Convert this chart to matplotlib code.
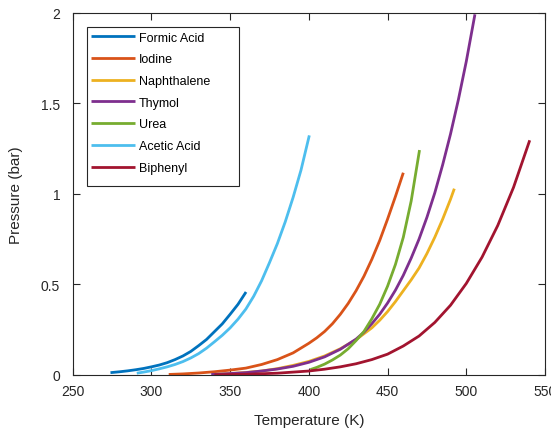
import matplotlib
matplotlib.use("Agg")
import matplotlib.pyplot as plt
from matplotlib.patches import Rectangle

plt.rcParams['font.family'] = ['Liberation Sans', 'DejaVu Sans']

labels = ["Formic Acid", "Iodine", "Naphthalene", "Thymol", "Urea", "Acetic Acid", "Biphenyl"]
colors = ["#0072BD", "#D95319", "#EDB120", "#7E2F8E", "#77AC30", "#4DBEEE", "#A2142F"]

formic_T = [274, 280, 285, 290, 295, 300, 305, 310, 315, 320, 325, 330, 335, 340, 345, 350, 355, 360.1]
formic_P = [0.013, 0.018, 0.023, 0.029, 0.036, 0.045, 0.055, 0.068, 0.085, 0.105, 0.13, 0.162,
            0.196, 0.239, 0.282, 0.335, 0.39, 0.458]

iodine_T = [311, 320, 330, 340, 350, 360, 370, 380, 390, 400, 405, 410, 415, 420, 425, 430,
            435, 440, 445, 450, 455, 460]
iodine_P = [0.003, 0.006, 0.011, 0.018, 0.027, 0.038, 0.058, 0.085, 0.122, 0.175, 0.205, 0.24,
            0.283, 0.335, 0.395, 0.465, 0.545, 0.638, 0.742, 0.86, 0.985, 1.116]

naph_T = [340, 350, 360, 370, 380, 390, 400, 410, 420, 430, 440, 445, 450, 455, 460, 465,
          470, 475, 480, 485, 490, 492.4]
naph_P = [0.004, 0.008, 0.014, 0.022, 0.035, 0.053, 0.075, 0.105, 0.145, 0.195, 0.26, 0.302,
          0.35, 0.405, 0.465, 0.525, 0.59, 0.67, 0.76, 0.86, 0.97, 1.028]

thymol_T = [338, 350, 360, 370, 380, 390, 400, 410, 420, 430, 435, 440, 445, 450, 455, 460,
            465, 470, 475, 480, 485, 490, 495, 500, 505.5]
thymol_P = [0.003, 0.008, 0.013, 0.022, 0.033, 0.048, 0.07, 0.10, 0.142, 0.198, 0.236, 0.283,
            0.335, 0.397, 0.468, 0.55, 0.645, 0.75, 0.87, 1.005, 1.16, 1.33, 1.52, 1.73, 1.99]

urea_T = [401, 405, 410, 415, 420, 425, 430, 435, 440, 445, 450, 455, 460, 465, 470.3]
urea_P = [0.03, 0.042, 0.06, 0.083, 0.11, 0.145, 0.19, 0.24, 0.31, 0.39, 0.49, 0.61, 0.76,
          0.96, 1.241]

acetic_T = [290.7, 295, 300, 305, 310, 315, 320, 325, 330, 335, 340, 345, 350, 355, 360, 365,
            370, 375, 380, 385, 390, 395, 400.3]
acetic_P = [0.01, 0.016, 0.024, 0.034, 0.045, 0.058, 0.074, 0.094, 0.118, 0.148, 0.183, 0.219,
            0.26, 0.308, 0.364, 0.435, 0.52, 0.62, 0.725, 0.845, 0.98, 1.13, 1.322]

biph_T = [340, 360, 380, 400, 410, 420, 430, 440, 450, 460, 470, 480, 490, 500, 510, 520,
          530, 540.3]
biph_P = [0.001, 0.004, 0.01, 0.022, 0.032, 0.045, 0.062, 0.085, 0.115, 0.16, 0.215, 0.29,
          0.385, 0.505, 0.65, 0.825, 1.035, 1.295]

series = [(formic_T, formic_P), (iodine_T, iodine_P), (naph_T, naph_P), (thymol_T, thymol_P),
          (urea_T, urea_P), (acetic_T, acetic_P), (biph_T, biph_P)]

xticks = [250, 300, 350, 400, 450, 500, 550]
yticks = [0, 0.5, 1, 1.5, 2]
ytick_labels = ["0", "0.5", "1", "1.5", "2"]

axc = "#262626"
fig = plt.figure(figsize=(5.51, 4.31), dpi=100)
W, H = 551, 431
ax = fig.add_axes([72.7 / W, 1 - 376 / H, 472.3 / W, 362.5 / H])

lines = []
for (T, P), c, lab in zip(series, colors, labels):
    ln, = ax.plot(T, P, color=c, lw=2.0, label=lab, solid_capstyle='butt',
                  solid_joinstyle='round')
    lines.append(ln)

ax.set_xlim(250, 550)
ax.set_ylim(0, 2)
ax.set_xticks(xticks)
ax.set_yticks(yticks)
ax.set_yticklabels(ytick_labels)
for s in ax.spines.values():
    s.set_color(axc)
    s.set_linewidth(0.8)
ax.tick_params(direction='in', length=5, width=0.8, colors=axc, labelsize=10,
               top=True, right=True, labelcolor=axc)
ax.tick_params(axis='x', pad=6.5)
ax.tick_params(axis='y', pad=9)

ax.set_xlabel("Temperature (K)", fontsize=11, color=axc)
ax.set_ylabel("Pressure (bar)", fontsize=11, color=axc)
ax.xaxis.label.set_va('center')
ax.yaxis.label.set_va('center')
ax.xaxis.set_label_coords(0.5, (376 - 421) / 362.5)
ax.yaxis.set_label_coords((16 - 72.7) / 472.3, 0.5)

# legend frame
x0 = (86.7 - 72.7) / 472.3
x1 = (239.3 - 72.7) / 472.3
yt = (376 - 27.7) / 362.5
yb = (376 - 187.3) / 362.5
ax.add_patch(Rectangle((x0, yb), x1 - x0, yt - yb, transform=ax.transAxes,
                       facecolor='white', edgecolor=axc, lw=0.8, zorder=4))
leg = ax.legend(handles=lines, loc='upper left', frameon=False,
                bbox_to_anchor=((91 - 72.7) / 472.3, (376 - 32.5) / 362.5),
                borderpad=0, borderaxespad=0, fontsize=9, handlelength=3.5,
                handletextpad=0.35, labelspacing=0.78)
leg.set_zorder(5)
for t in leg.get_texts():
    t.set_color("#000000")

fig.savefig("out.png", dpi=100)
